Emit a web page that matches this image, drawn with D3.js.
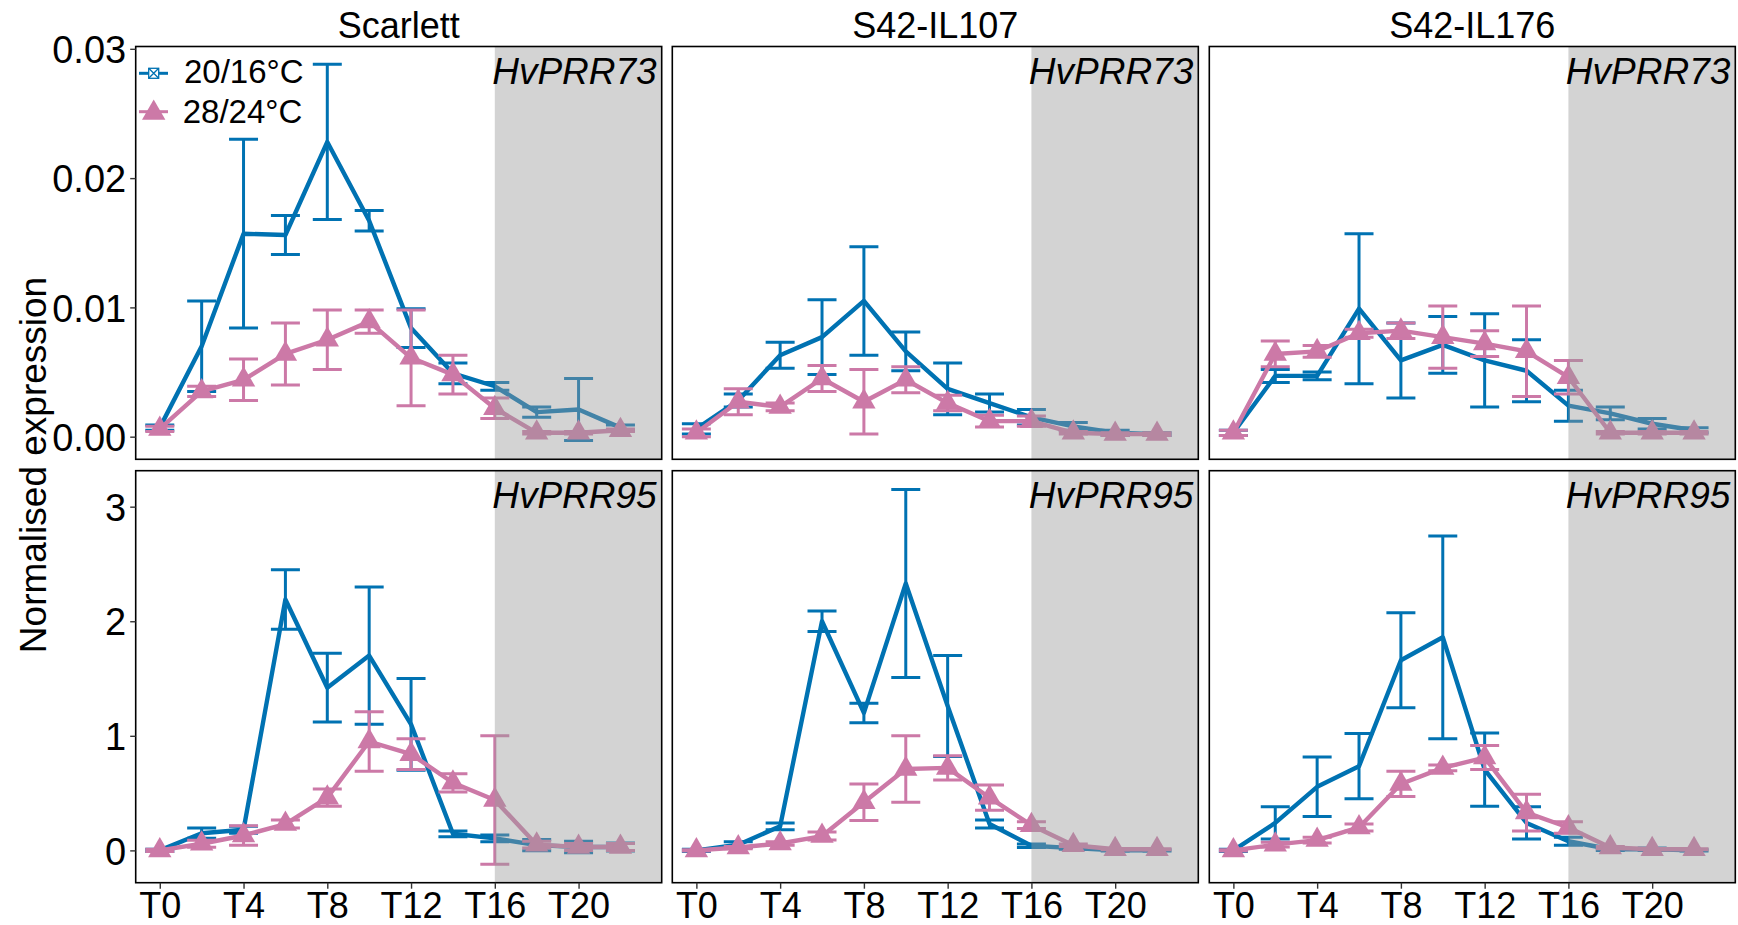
<!DOCTYPE html>
<html><head><meta charset="utf-8">
<script src="https://cdn.jsdelivr.net/npm/d3@7"></script>
<style>
body{margin:0;background:#fff}
text{font-family:"Liberation Sans",Arial,sans-serif;fill:#000}
</style>
</head><body>
<svg id="chart" width="1738" height="925"></svg>
<script>
// ---------- data ----------
const times = [0,2,4,6,8,10,12,14,16,18,20,22];
const tickValues = [0,4,8,12,16,20];
const tickLabels = ["T0","T4","T8","T12","T16","T20"];
const genotypes = ["Scarlett","S42-IL107","S42-IL176"];
const genes = ["HvPRR73","HvPRR95"];
const seriesNames = ["20/16°C","28/24°C"];
const yTicks73 = [0,0.01,0.02,0.03];
const yTickLabels73 = ["0.00","0.01","0.02","0.03"];
const yTicks95 = [0,1,2,3];
const yTickLabels95 = ["0","1","2","3"];
const nightStart = 16;

// HvPRR73
const scarlett73Cool   = [0.0007,0.0070,0.0157,0.0156,0.0228,0.0167,0.0084,0.0049,0.0039,0.0019,0.0021,0.0007];
const scarlett73CoolSE = [0.0002,0.0035,0.0073,0.0015,0.0060,0.0008,0.0015,0.0008,0.0003,0.0004,0.0024,0.0002];
const scarlett73Warm   = [0.0006,0.0035,0.0044,0.0064,0.0075,0.0089,0.0061,0.0048,0.0022,0.0003,0.0003,0.0005];
const scarlett73WarmSE = [0.0002,0.0004,0.0016,0.0024,0.0023,0.0009,0.0037,0.0015,0.0008,0.0001,0.0001,0.0001];
const il107_73Cool   = [0.0006,0.0028,0.0063,0.0077,0.0105,0.0066,0.0037,0.0026,0.0015,0.0008,0.0003,0.0002];
const il107_73CoolSE = [0.0004,0.0005,0.0010,0.0029,0.0042,0.0015,0.0020,0.0007,0.0006,0.0003,0.0002,0.0001];
const il107_73Warm   = [0.0003,0.0027,0.0023,0.0045,0.0027,0.0044,0.0026,0.0012,0.0012,0.0003,0.0002,0.0002];
const il107_73WarmSE = [0.0003,0.0010,0.0003,0.0010,0.0025,0.0010,0.0006,0.00045,0.0004,0.0001,0.0001,0.0001];
const il176_73Cool   = [0.0003,0.0047,0.0047,0.0099,0.0059,0.0071,0.0059,0.0051,0.0024,0.0018,0.0010,0.0005];
const il176_73CoolSE = [0.0002,0.0005,0.0003,0.0058,0.0029,0.0022,0.0036,0.0024,0.0012,0.0005,0.0004,0.0002];
const il176_73Warm   = [0.0003,0.0064,0.0066,0.0080,0.0082,0.0077,0.0072,0.0066,0.0046,0.0003,0.0003,0.0003];
const il176_73WarmSE = [0.0002,0.0010,0.00045,0.0003,0.0006,0.0024,0.0010,0.0035,0.0013,0.0001,0.0001,0.0001];
// HvPRR95
const scarlett95Cool   = [0.00,0.15,0.18,2.19,1.42,1.70,1.10,0.145,0.105,0.046,0.03,0.03];
const scarlett95CoolSE = [0.01,0.045,0.03,0.26,0.30,0.60,0.40,0.025,0.03,0.05,0.05,0.035];
const scarlett95Warm   = [0.00,0.058,0.13,0.23,0.46,0.95,0.84,0.59,0.44,0.05,0.03,0.03];
const scarlett95WarmSE = [0.01,0.03,0.085,0.035,0.075,0.26,0.135,0.08,0.56,0.03,0.03,0.03];
const il107_95Cool   = [0.00,0.05,0.21,2.00,1.20,2.33,1.26,0.23,0.04,0.02,0.00,0.00];
const il107_95CoolSE = [0.01,0.025,0.03,0.09,0.085,0.82,0.44,0.035,0.015,0.01,0.005,0.005];
const il107_95Warm   = [0.00,0.025,0.06,0.125,0.42,0.71,0.72,0.46,0.22,0.045,0.01,0.01];
const il107_95WarmSE = [0.005,0.01,0.015,0.035,0.16,0.29,0.105,0.11,0.03,0.01,0.005,0.005];
const il176_95Cool   = [0.00,0.24,0.555,0.735,1.66,1.86,0.705,0.24,0.08,0.01,0.01,0.00];
const il176_95CoolSE = [0.01,0.14,0.26,0.285,0.415,0.885,0.32,0.14,0.035,0.01,0.01,0.005];
const il176_95Warm   = [0.00,0.05,0.09,0.20,0.58,0.72,0.81,0.33,0.20,0.025,0.01,0.01];
const il176_95WarmSE = [0.005,0.02,0.025,0.03,0.11,0.025,0.105,0.16,0.05,0.01,0.005,0.005];

const panelData = [
  [ // HvPRR73 row
    {cool:scarlett73Cool, coolSE:scarlett73CoolSE, warm:scarlett73Warm, warmSE:scarlett73WarmSE},
    {cool:il107_73Cool, coolSE:il107_73CoolSE, warm:il107_73Warm, warmSE:il107_73WarmSE},
    {cool:il176_73Cool, coolSE:il176_73CoolSE, warm:il176_73Warm, warmSE:il176_73WarmSE}
  ],
  [ // HvPRR95 row
    {cool:scarlett95Cool, coolSE:scarlett95CoolSE, warm:scarlett95Warm, warmSE:scarlett95WarmSE},
    {cool:il107_95Cool, coolSE:il107_95CoolSE, warm:il107_95Warm, warmSE:il107_95WarmSE},
    {cool:il176_95Cool, coolSE:il176_95CoolSE, warm:il176_95Warm, warmSE:il176_95WarmSE}
  ]
];

// ---------- layout / style ----------
const colCool = "#0072B2", colWarm = "#CC79A7";
const panelLeft = [135.7, 672.3, 1209.3], panelW = 526;
const rowTop = [46.5, 470.7], rowH = [412.8, 412];
const yDomains = [[-0.00175, 0.03018], [-0.282, 3.314]];
const yTickSets = [[yTicks73, yTickLabels73], [yTicks95, yTickLabels95]];
const xDomain = [-1.15, 23.97];
const FONT = '"Liberation Sans",Arial,sans-serif';

const svg = d3.select("#chart");

function triPath(r){ // centroid-centred triangle, r = distance centroid->top
  const h = r*Math.sqrt(3)/2;
  return `M0,${-r}L${h},${r/2}L${-h},${r/2}Z`;
}

for (let row=0; row<2; row++){
  for (let col=0; col<3; col++){
    const x0 = panelLeft[col], y0 = rowTop[row], h = rowH[row];
    const x = d3.scaleLinear().domain(xDomain).range([x0, x0+panelW]);
    const y = d3.scaleLinear().domain(yDomains[row]).range([y0+h, y0]);
    const g = svg.append("g");
    const clipId = `clip${row}${col}`;
    svg.append("clipPath").attr("id", clipId).append("rect")
      .attr("x", x0).attr("y", y0).attr("width", panelW).attr("height", h);
    const body = g.append("g").attr("clip-path", `url(#${clipId})`);
    const d = panelData[row][col];
    const series = [
      {m:d.cool, se:d.coolSE, c:colCool, tri:false},
      {m:d.warm, se:d.warmSE, c:colWarm, tri:true}
    ];
    series.forEach(s => {
      const pts = times.map((t,i)=>({t, m:s.m[i], se:s.se[i]}));
      // error bars
      const eb = body.append("g").attr("stroke", s.c).attr("stroke-width", 3).attr("fill","none");
      pts.forEach(p => {
        const xp = x(p.t), yl = y(p.m - p.se), yu = y(p.m + p.se);
        const cw = 14.5;
        eb.append("path").attr("d", `M${xp},${yl}V${yu}M${xp-cw},${yu}H${xp+cw}M${xp-cw},${yl}H${xp+cw}`);
      });
      // line
      body.append("path").datum(pts)
        .attr("fill","none").attr("stroke", s.c).attr("stroke-width", 4.4)
        .attr("stroke-linejoin","round").attr("stroke-linecap","butt")
        .attr("d", d3.line().x(p=>x(p.t)).y(p=>y(p.m)));
      if (s.tri){
        body.append("g").selectAll("path").data(pts).join("path")
          .attr("transform", p=>`translate(${x(p.t)},${y(p.m)})`)
          .attr("d", triPath(13.5)).attr("fill", s.c);
      }
    });
    // night shading overlay
    body.append("rect")
      .attr("x", x(nightStart)).attr("y", y0)
      .attr("width", x0+panelW - x(nightStart)).attr("height", h)
      .attr("fill", "#999999").attr("fill-opacity", 0.43);
    // gene label
    g.append("text").attr("x", x0+panelW-5).attr("y", y0+37)
      .attr("text-anchor","end").attr("font-size", 37).attr("font-style","italic")
      .text(genes[row]);
    // border
    g.append("rect").attr("x", x0).attr("y", y0).attr("width", panelW).attr("height", h)
      .attr("fill","none").attr("stroke","#000").attr("stroke-width", 1.6);
    // y axis on first column
    if (col===0){
      const [tv, tl] = yTickSets[row];
      const ax = d3.axisLeft(y).tickValues(tv).tickFormat((v,i)=>tl[i]).tickSize(5.5).tickPadding(4);
      const ag = g.append("g").attr("transform", `translate(${x0},0)`).call(ax);
      ag.select(".domain").remove();
      ag.selectAll(".tick line").attr("stroke","#333").attr("stroke-width",1.4);
      ag.selectAll(".tick text").attr("font-size", 38).attr("font-family", FONT).attr("fill","#000").attr("dy","0.36em");
    }
    // x axis on bottom row
    if (row===1){
      const ax = d3.axisBottom(x).tickValues(tickValues).tickFormat((v,i)=>tickLabels[i]).tickSize(6).tickPadding(3);
      const ag = g.append("g").attr("transform", `translate(0,${y0+h})`).call(ax);
      ag.select(".domain").remove();
      ag.selectAll(".tick line").attr("stroke","#333").attr("stroke-width",1.4);
      ag.selectAll(".tick text").attr("font-size", 36).attr("font-family", FONT).attr("fill","#000").attr("dy","0.74em");
    }
    // strip title
    if (row===0){
      svg.append("text").attr("x", x0+panelW/2).attr("y", 38)
        .attr("text-anchor","middle").attr("font-size", 36).text(genotypes[col]);
    }
  }
}

// y axis title
svg.append("text").attr("transform","translate(46,465) rotate(-90)")
  .attr("text-anchor","middle").attr("font-size", 37).text("Normalised expression");

// legend (inside first panel)
const lg = svg.append("g");
const lx = 153.7;
lg.append("line").attr("x1",139).attr("x2",168).attr("y1",73.3).attr("y2",73.3)
  .attr("stroke",colCool).attr("stroke-width",3);
lg.append("rect").attr("x",lx-5).attr("y",73.3-5).attr("width",10).attr("height",10)
  .attr("fill","#fff").attr("stroke",colCool).attr("stroke-width",1.3);
lg.append("path").attr("d",`M${lx-5},${73.3-5}L${lx+5},${73.3+5}M${lx+5},${73.3-5}L${lx-5},${73.3+5}`)
  .attr("stroke",colCool).attr("stroke-width",1.3);
lg.append("text").attr("x",184).attr("y",83).attr("font-size",33).text(seriesNames[0]);
lg.append("line").attr("x1",139).attr("x2",168).attr("y1",111.7).attr("y2",111.7)
  .attr("stroke",colWarm).attr("stroke-width",3);
lg.append("path").attr("transform",`translate(${lx},113)`).attr("d",triPath(13.5)).attr("fill",colWarm);
lg.append("text").attr("x",182.7).attr("y",123).attr("font-size",33).text(seriesNames[1]);
</script>
</body></html>
